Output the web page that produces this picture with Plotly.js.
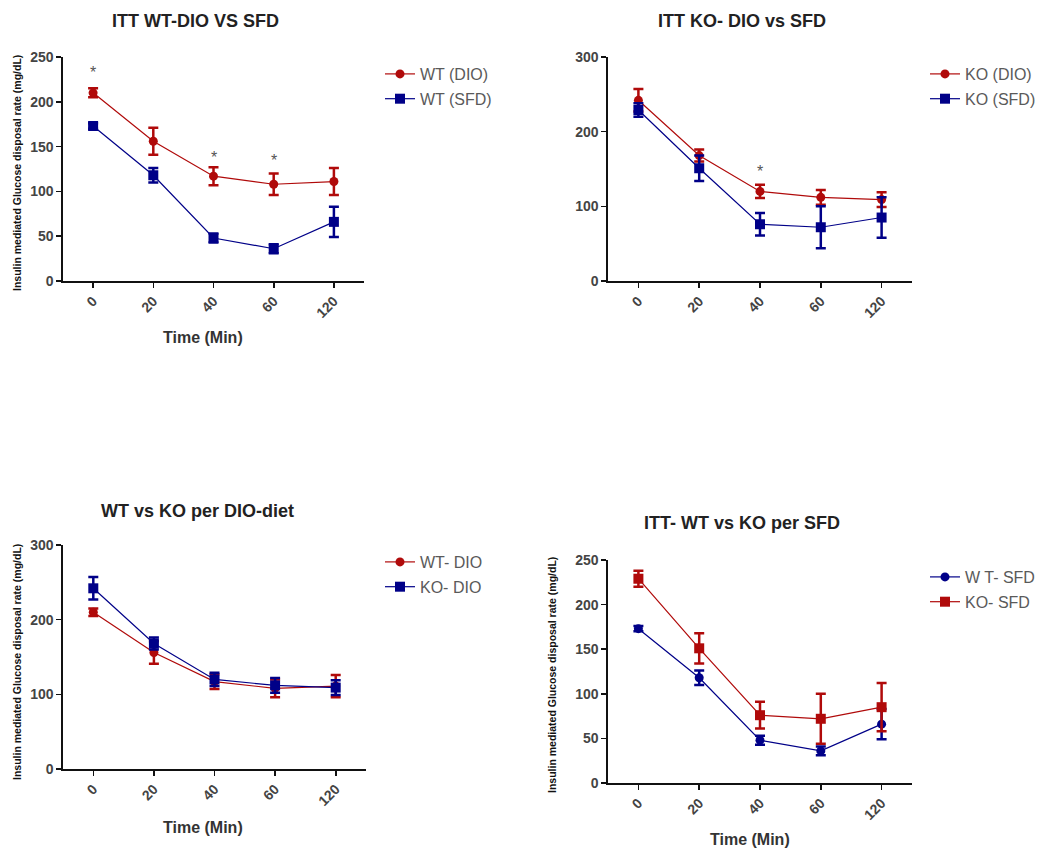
<!DOCTYPE html>
<html>
<head>
<meta charset="utf-8">
<script src="https://cdn.plot.ly/plotly-3.0.1.min.js"></script>
<style>html,body{margin:0;padding:0;background:#fff;}#chart{width:1044px;height:848px;}</style>
</head>
<body>
<div id="chart"></div>
<script>
// ---- data ----
const times = ['0', '20', '40', '60', '120'];

const wtDio    = [210, 156, 117, 108, 111];
const wtDioErr = [5, 15, 10, 12, 15];
const wtSfd    = [173, 118, 48, 36, 66];
const wtSfdErr = [3, 8, 5, 5, 17];
const koDio    = [242, 168, 120, 112, 109];
const koDioErr = [15, 8, 9, 10, 10];
const koSfd    = [229, 151, 76, 72, 85];
const koSfdErr = [9, 17, 15, 28, 27];

const panelTitles = ['ITT WT-DIO VS SFD', 'ITT KO- DIO vs SFD', 'WT vs KO per DIO-diet', 'ITT- WT vs KO per SFD'];
const legendNames = [['WT (DIO)', 'WT (SFD)'], ['KO (DIO)', 'KO (SFD)'], ['WT- DIO', 'KO- DIO'], ['W T- SFD', 'KO- SFD']];
const yMax = [250, 300, 300, 250];
const yStep = [50, 100, 100, 50];

// significance stars: panel, category index, height
const starPanel = [1, 1, 1, 2];
const starIdx   = [0, 2, 3, 2];
const starY     = [233, 138, 134, 146];

const yTitle = 'Insulin mediated Glucose disposal rate (mg/dL)';
const xTitle = 'Time (Min)';

// ---- styling ----
const RED = '#B00A0A';
const BLUE = '#000088';
const W = 1044, H = 848;
const px = v => v / W;
const py = v => 1 - v / H;

// plot-area boxes in pixels [left, right, top, bottom]
const boxes = [
  [63, 364, 57, 281],
  [608, 912, 57, 281],
  [63, 366, 545, 769],
  [608, 912, 560, 783]
];

function mk(y, err, name, color, symbol, axisIdx, grp) {
  const s = axisIdx === 1 ? '' : String(axisIdx);
  return {
    x: times, y: y, name: name, type: 'scatter', mode: 'lines+markers',
    xaxis: 'x' + s, yaxis: 'y' + s, legend: 'legend' + s, legendgroup: grp,
    line: {color: color, width: 1.2},
    marker: {color: color, symbol: symbol, size: symbol === 'square' ? 10 : 9},
    error_y: {type: 'data', array: err, visible: true, color: color, thickness: 2.5, width: 5},
    cliponaxis: false
  };
}

const traces = [
  mk(wtDio, wtDioErr, legendNames[0][0], RED, 'circle', 1, 'a1'),
  mk(wtSfd, wtSfdErr, legendNames[0][1], BLUE, 'square', 1, 'b1'),
  mk(koDio, koDioErr, legendNames[1][0], RED, 'circle', 2, 'a2'),
  mk(koSfd, koSfdErr, legendNames[1][1], BLUE, 'square', 2, 'b2'),
  mk(wtDio, wtDioErr, legendNames[2][0], RED, 'circle', 3, 'a3'),
  mk(koDio, koDioErr, legendNames[2][1], BLUE, 'square', 3, 'b3'),
  mk(wtSfd, wtSfdErr, legendNames[3][0], BLUE, 'circle', 4, 'a4'),
  mk(koSfd, koSfdErr, legendNames[3][1], RED, 'square', 4, 'b4')
];

const FONT = 'Liberation Sans, Arial, sans-serif';
const layout = {
  width: W, height: H,
  margin: {l: 0, r: 0, t: 0, b: 0},
  paper_bgcolor: '#fff', plot_bgcolor: '#fff',
  font: {family: FONT, color: '#333'},
  annotations: []
};

const legendPos = [[380, 57], [925, 57], [380, 545], [925, 560]];

boxes.forEach((b, i) => {
  const s = i === 0 ? '' : String(i + 1);
  layout['xaxis' + s] = {
    domain: [px(b[0]), px(b[1])], anchor: 'y' + s,
    type: 'category', range: [-0.5, 4.5],
    showline: true, linecolor: '#111', linewidth: 1.6,
    ticks: 'outside', ticklen: 5, tickwidth: 1.6, tickcolor: '#111',
    tickangle: -45, showgrid: false, zeroline: false,
    tickfont: {family: FONT, size: 14, color: '#444', weight: 'bold'}
  };
  layout['yaxis' + s] = {
    domain: [py(b[3]), py(b[2])], anchor: 'x' + s,
    range: [0, yMax[i]], dtick: yStep[i], tick0: 0,
    showline: true, linecolor: '#111', linewidth: 1.6,
    ticks: 'outside', ticklen: 5, tickwidth: 1.6, tickcolor: '#111',
    showgrid: false, zeroline: false,
    tickfont: {family: FONT, size: 14, color: '#444', weight: 'bold'}
  };
  const lk = i === 0 ? 'legend' : 'legend' + (i + 1);
  layout[lk] = {
    x: px(legendPos[i][0]), y: py(legendPos[i][1]), xanchor: 'left', yanchor: 'top',
    bgcolor: 'rgba(0,0,0,0)', borderwidth: 0,
    font: {family: FONT, size: 16, color: '#5a5a5a'},
    itemwidth: 30, tracegroupgap: 1, traceorder: 'grouped'
  };
});

// panel titles
const titlePos = [[195, 21], [742, 21], [197, 511], [742, 523]];
panelTitles.forEach((t, i) => {
  layout.annotations.push({
    text: t, xref: 'paper', yref: 'paper', x: px(titlePos[i][0]), y: py(titlePos[i][1]),
    xanchor: 'center', yanchor: 'middle', showarrow: false,
    font: {family: FONT, size: 18, color: '#222', weight: 'bold'}
  });
});

// axis titles (panel 2 has none in the reference)
const yTitlePos = [[17, 173], [17, 662], [552, 675]];
yTitlePos.forEach(p => {
  layout.annotations.push({
    text: yTitle, xref: 'paper', yref: 'paper', x: px(p[0]), y: py(p[1]),
    xanchor: 'center', yanchor: 'middle', textangle: -90, showarrow: false,
    font: {family: FONT, size: 10.5, color: '#111', weight: 'bold'}
  });
});
const xTitlePos = [[203, 337], [203, 827], [750, 839]];
xTitlePos.forEach(p => {
  layout.annotations.push({
    text: xTitle, xref: 'paper', yref: 'paper', x: px(p[0]), y: py(p[1]),
    xanchor: 'center', yanchor: 'middle', showarrow: false,
    font: {family: FONT, size: 16, color: '#333', weight: 'bold'}
  });
});

// stars
starPanel.forEach((p, k) => {
  const s = p === 1 ? '' : String(p);
  layout.annotations.push({
    text: '*', xref: 'x' + s, yref: 'y' + s, x: starIdx[k], y: starY[k],
    xanchor: 'center', yanchor: 'middle', showarrow: false,
    font: {family: FONT, size: 16, color: '#555'}
  });
});

Plotly.newPlot('chart', traces, layout, {displayModeBar: false, staticPlot: true});
</script>
</body>
</html>
